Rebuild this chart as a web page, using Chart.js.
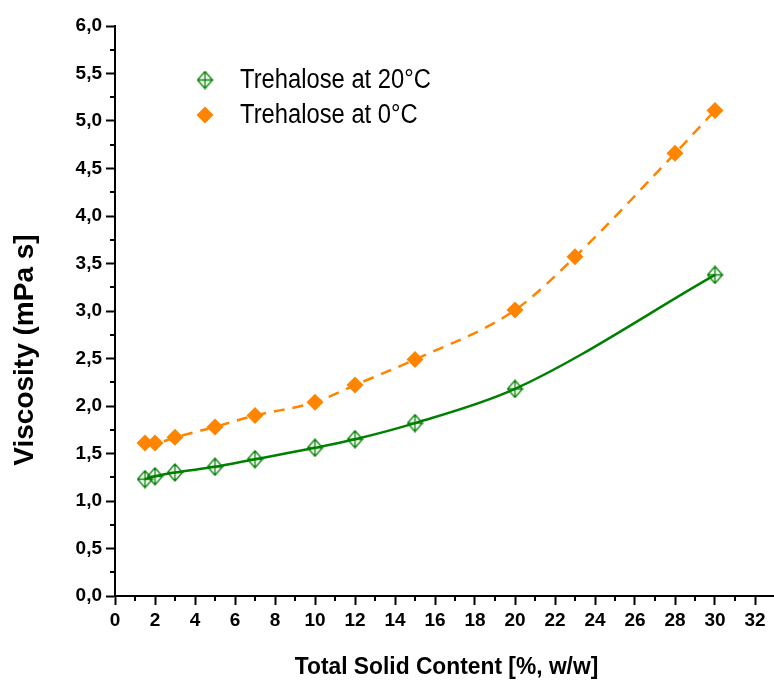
<!DOCTYPE html>
<html>
<head>
<meta charset="utf-8">
<script src="https://cdn.jsdelivr.net/npm/chart.js@4/dist/chart.umd.min.js"></script>
<style>
  html, body { margin: 0; padding: 0; background: #fff; }
  #wrap { width: 774px; height: 683px; }
</style>
</head>
<body>
<div id="wrap"><canvas id="c"></canvas></div>
<script>
// Viscosity of trehalose solutions vs. total solid content
const solids20 = [1.5, 2, 3, 5, 7, 10, 12, 15, 20, 30];
const viscosity20 = [1.23, 1.26, 1.30, 1.36, 1.44, 1.56, 1.65, 1.82, 2.18, 3.38];
const solids0 = [1.5, 2, 3, 5, 7, 10, 12, 15, 20, 23, 28, 30];
const viscosity0 = [1.61, 1.61, 1.67, 1.78, 1.90, 2.04, 2.22, 2.49, 3.01, 3.57, 4.66, 5.11];
const seriesLabels = ['Trehalose at 20°C', 'Trehalose at 0°C'];
const xTitle = 'Total Solid Content [%, w/w]';
const yTitle = 'Viscosity (mPa s]';
const xMinorTicks = [1, 3, 5, 7, 9, 11, 13, 15, 17, 19, 21, 23, 25, 27, 29, 31];
const yMinorTicks = [0.25, 0.75, 1.25, 1.75, 2.25, 2.75, 3.25, 3.75, 4.25, 4.75, 5.25, 5.75];

const GREEN = '#008000';
const ORANGE = '#ff8400';
const FONT = '"Liberation Sans", Arial, sans-serif';

// hollow diamond with a cross inside
function crossedDiamond(w, h, color) {
  const c = document.createElement('canvas');
  c.width = w + 2; c.height = h + 2;
  const g = c.getContext('2d');
  g.strokeStyle = color; g.lineWidth = 1.3;
  const cx = c.width / 2, cy = c.height / 2;
  g.beginPath();
  g.moveTo(cx, 1); g.lineTo(w + 1, cy); g.lineTo(cx, h + 1); g.lineTo(1, cy); g.closePath();
  g.moveTo(cx, 1); g.lineTo(cx, h + 1);
  g.moveTo(1, cy); g.lineTo(w + 1, cy);
  g.stroke();
  return c;
}
const greenMarker = crossedDiamond(15, 17, GREEN);

const toXY = (xs, ys) => xs.map((x, i) => ({ x: x, y: ys[i] }));

// short ticks between the labelled ones
const minorTicks = {
  id: 'minorTicks',
  afterDraw(chart) {
    const { ctx, scales: { x, y } } = chart;
    ctx.save();
    ctx.strokeStyle = '#000';
    ctx.lineWidth = 2;
    ctx.beginPath();
    xMinorTicks.forEach(v => {
      const px = Math.round(x.getPixelForValue(v));
      ctx.moveTo(px, y.bottom); ctx.lineTo(px, y.bottom + 5);
    });
    yMinorTicks.forEach(v => {
      const py = Math.round(y.getPixelForValue(v));
      ctx.moveTo(x.left - 5, py); ctx.lineTo(x.left, py);
    });
    ctx.stroke();
    ctx.restore();
  }
};

// axis titles, drawn in narrow type
const axisTitles = {
  id: 'axisTitles',
  afterDraw(chart) {
    const { ctx, chartArea } = chart;
    ctx.save();
    ctx.fillStyle = '#000';
    ctx.textAlign = 'center';
    ctx.textBaseline = 'middle';
    ctx.save();
    ctx.translate((chartArea.left + chartArea.right) / 2 + 2, chartArea.bottom + 71);
    ctx.scale(0.95, 1);
    ctx.font = 'bold 24px ' + FONT;
    ctx.fillText(xTitle, 0, 0);
    ctx.restore();
    ctx.save();
    ctx.translate(25, chartArea.top + 324);
    ctx.rotate(-Math.PI / 2);
    ctx.font = 'bold 28px ' + FONT;
    ctx.fillText(yTitle, 0, 0);
    ctx.restore();
    ctx.restore();
  }
};

const insideLegend = {
  id: 'insideLegend',
  afterDraw(chart) {
    const { ctx, chartArea } = chart;
    const mx = chartArea.left + 90, tx = chartArea.left + 125;
    const rows = [chartArea.top + 54, chartArea.top + 89];
    ctx.save();
    ctx.textBaseline = 'middle';
    chart.data.datasets.forEach((ds, i) => {
      const yy = rows[i];
      if (ds.pointStyle instanceof HTMLCanvasElement) {
        ctx.drawImage(ds.pointStyle, mx - ds.pointStyle.width / 2, yy - ds.pointStyle.height / 2);
      } else {
        ctx.fillStyle = ds.pointBackgroundColor;
        Chart.helpers.drawPoint(ctx, { pointStyle: ds.pointStyle, radius: ds.pointRadius, rotation: 0, borderWidth: 0 }, mx, yy);
      }
      ctx.save();
      ctx.translate(tx, yy + 1);
      ctx.scale(0.88, 1);
      ctx.font = '27px ' + FONT;
      ctx.fillStyle = '#000';
      ctx.fillText(ds.label, 0, 0);
      ctx.restore();
    });
    ctx.restore();
  }
};

new Chart(document.getElementById('c'), {
  type: 'scatter',
  data: {
    datasets: [
      {
        label: seriesLabels[0],
        data: toXY(solids20, viscosity20),
        showLine: true,
        cubicInterpolationMode: 'monotone',
        borderColor: GREEN,
        borderWidth: 2.5,
        pointStyle: greenMarker,
        pointRadius: 8,
        pointBorderColor: GREEN,
        pointBackgroundColor: 'rgba(0,0,0,0)'
      },
      {
        label: seriesLabels[1],
        data: toXY(solids0, viscosity0),
        showLine: true,
        cubicInterpolationMode: 'monotone',
        borderColor: ORANGE,
        borderWidth: 2.5,
        borderDash: [11, 8],
        pointStyle: 'rectRot',
        pointRadius: 8.5,
        pointBorderWidth: 0,
        pointBorderColor: ORANGE,
        pointBackgroundColor: ORANGE
      }
    ]
  },
  options: {
    responsive: true,
    maintainAspectRatio: false,
    animation: false,
    layout: { autoPadding: false, padding: { top: 26, right: 0, left: 0, bottom: 0 } },
    plugins: { legend: { display: false }, tooltip: { enabled: false } },
    scales: {
      x: {
        type: 'linear',
        min: 0, max: 32.95,
        border: { display: true, color: '#000', width: 2 },
        grid: { drawOnChartArea: false, color: '#000', tickColor: '#000', tickWidth: 2, tickLength: 9 },
        ticks: { stepSize: 2, includeBounds: false, color: '#000', padding: 4, maxRotation: 0,
                 font: { family: FONT, size: 19, weight: 'bold' } },
        afterFit(s) { s.height = 87; s.paddingRight = 0; s.paddingLeft = 0; }
      },
      y: {
        type: 'linear',
        min: 0, max: 6,
        border: { display: true, color: '#000', width: 2 },
        grid: { drawOnChartArea: false, color: '#000', tickColor: '#000', tickWidth: 2, tickLength: 9 },
        ticks: { stepSize: 0.5, color: '#000', padding: 4,
                 font: { family: FONT, size: 19, weight: 'bold' },
                 callback: v => v.toFixed(1).replace('.', ',') },
        afterFit(s) { s.width = 115; }
      }
    }
  },
  plugins: [minorTicks, axisTitles, insideLegend]
});
</script>
</body>
</html>
